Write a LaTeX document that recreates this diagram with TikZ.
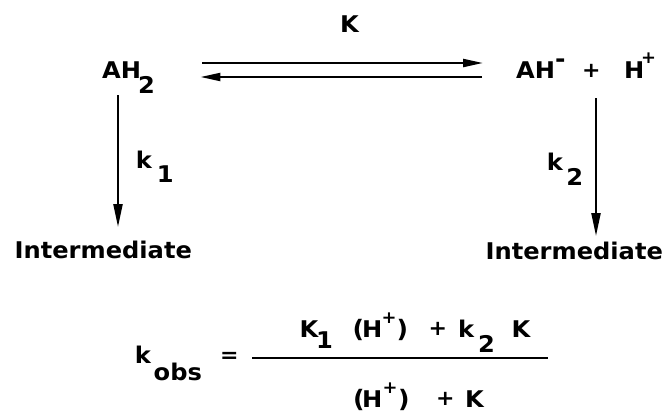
\documentclass[tikz,border=0pt]{standalone}
\usepackage{fontspec}
\setmainfont{DejaVu Sans Bold}[FakeStretch=1.05]
\usetikzlibrary{arrows.meta,calc}
\newcommand\putat[2]{\makebox[0pt][l]{\hspace*{#1pt}#2}}
\newcommand\upr[2]{\raisebox{#1pt}{#2}}
\newcommand\dnr[2]{\raisebox{-#1pt}{#2}}
\newcommand\opsz{\fontsize{21}{23}\selectfont}
\newcommand\supsz{\fontsize{17}{19}\selectfont}
\newcommand\parsz{\fontsize{24}{26}\selectfont}
\begin{document}
\begin{tikzpicture}[x=1pt,y=-1pt,
  txt/.style={inner sep=0pt, anchor=base west, font=\fontsize{23}{26}\selectfont},
  harr/.style={line width=2.2pt,-{Triangle[length=20pt,width=8pt]}},
  varr/.style={line width=2.2pt,-{Triangle[length=23pt,width=9pt]}},
  rulestyle/.style={line width=2.4pt}]
\fill[white] (0,0) rectangle (666,413);
\useasboundingbox (0,0) rectangle (666,413);

\node[txt, anchor=base] (K) at (349.5,32) {K};
\node[txt] (ah) at (102,78) {\putat{0}{AH}\putat{36}{\dnr{15}{2}}\hspace*{50pt}};
\node[txt] (R) at (516,78) {\putat{0}{AH}\putat{39}{\upr{11}{\fontsize{24}{26}\selectfont -}}\putat{66}{\upr{1}{\opsz +}}\putat{108}{H}\putat{125}{\upr{15}{\supsz +}}\hspace*{136pt}};

\node[txt] (int1) at (14.4,258) {Intermediate};
\node[txt] (int2) at (485.4,259) {Intermediate};

\node[txt] (k1) at (135.6,168) {\putat{0}{k}\putat{21}{\dnr{14}{1}}\hspace*{31pt}};
\node[txt] (k2) at (546.6,170) {\putat{0}{k}\putat{19.5}{\dnr{15}{2}}\hspace*{37pt}};

\coordinate (ty) at (0,63);
\coordinate (by) at (0,77);
\coordinate (lx) at (118,0);
\coordinate (rx) at (596,0);

\draw[harr] ($(ah.east |- ty)+(50,0)$) -- ($(R.west |- ty)+(-33,0)$);
\draw[harr] ($(R.west |- by)+(-34,0)$) -- ($(ah.east |- by)+(48,0)$);
\draw[varr] ($(ah.south -| lx)+(0,2)$) -- ($(int1.north -| lx)+(0,-13.3)$);
\draw[varr] ($(R.south -| rx)+(0,20)$) -- ($(int2.north -| rx)+(0,-5.3)$);

\node[txt] (kobs) at (134.6,363) {\putat{0}{k}\putat{18.9}{\dnr{17}{obs}}\hspace*{69pt}};
\node[txt] (eq) at (220,362) {\fontsize{21}{23}\selectfont =};
\node[txt] (num) at (299.4,337) {\putat{0}{K}\putat{16.5}{\dnr{11}{1}}\putat{53}{\parsz (}\putat{62.5}{H}\putat{82}{\upr{14}{\supsz +}}\putat{97}{\parsz )}\putat{129}{\upr{1.5}{\opsz +}}\putat{158.5}{k}\putat{178.5}{\dnr{15}{2}}\putat{212}{K}\hspace*{232pt}};
\node[txt] (den) at (352.9,407) {\putat{0}{\parsz (}\putat{9}{H}\putat{29.5}{\upr{14}{\supsz +}}\putat{45}{\parsz )}\putat{83}{\upr{1.5}{\opsz +}}\putat{112}{K}\hspace*{131pt}};
\coordinate (fl) at (252,358);
\coordinate (fr) at (548,358);
\draw[rulestyle] (fl) -- (fr);
\end{tikzpicture}
\end{document}
